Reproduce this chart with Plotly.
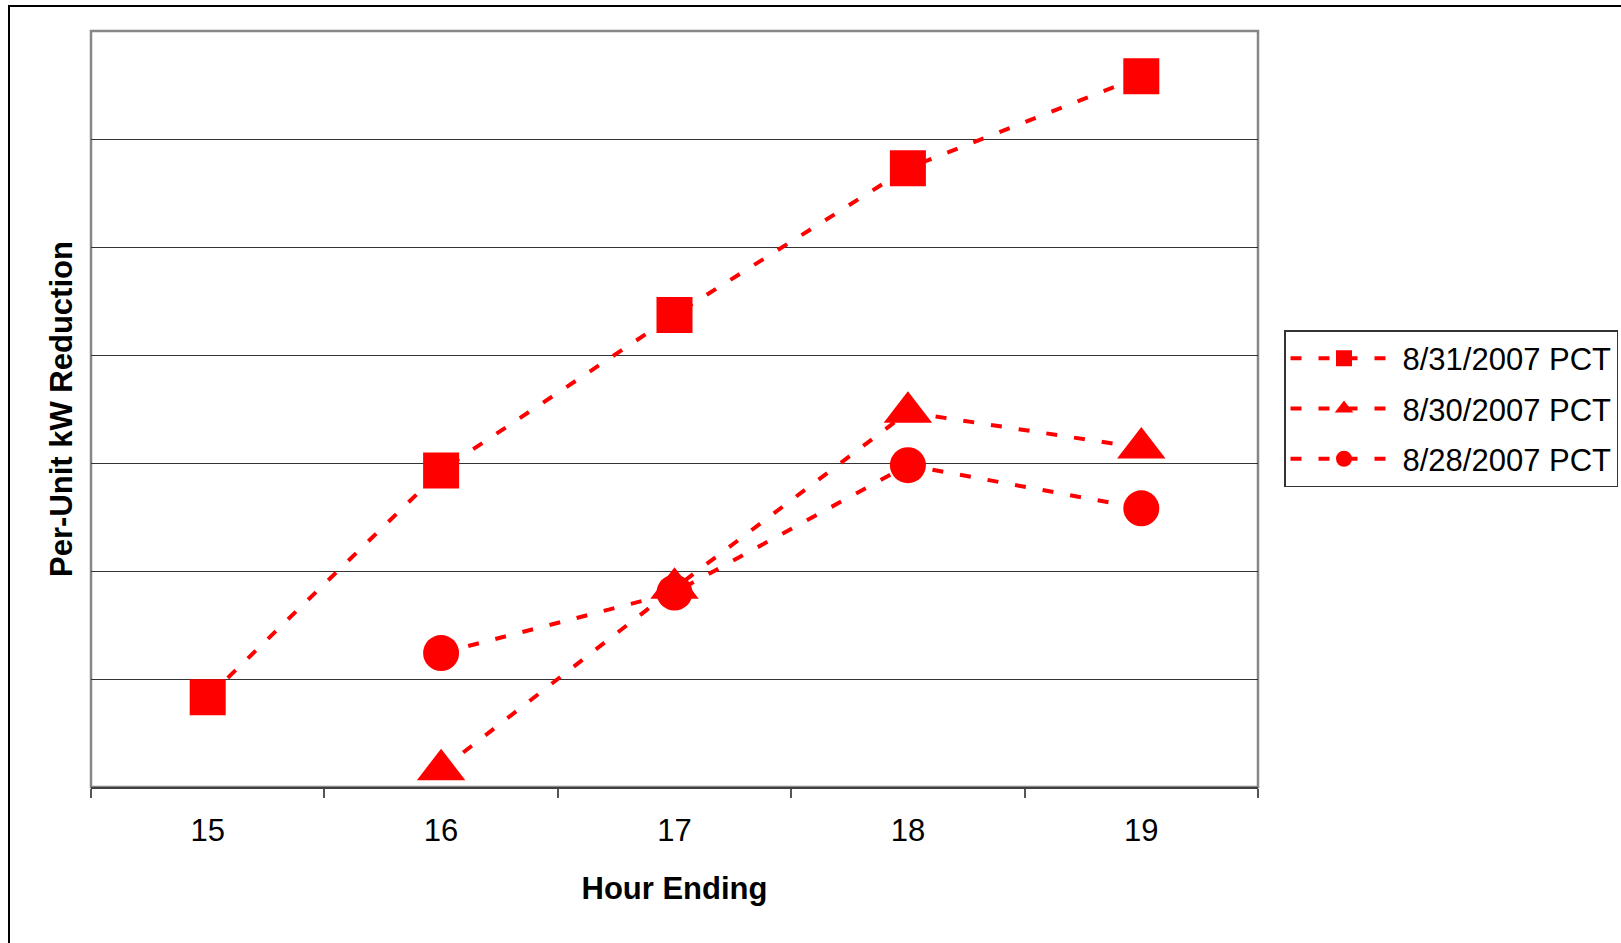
import plotly.graph_objects as go

hours = ["15", "16", "17", "18", "19"]
series_names = ["8/31/2007 PCT", "8/30/2007 PCT", "8/28/2007 PCT"]
pct_0831 = [0.83, 2.93, 4.37, 5.73, 6.58]
pct_0830 = [None, 0.16, 1.84, 3.47, 3.14]
pct_0828 = [None, 1.24, 1.80, 2.98, 2.58]
symbols = ["square", "triangle-up", "circle"]
marker_sizes = [36, 42, 36]

W, H = 1621, 943
L, R, T, B = 91, 1258, 31, 787

fig = go.Figure()
for i, (name, vals, sym, ms) in enumerate(zip(series_names, [pct_0831, pct_0830, pct_0828], symbols, marker_sizes)):
    fig.add_trace(go.Scatter(
        x=hours, y=vals, name=name, mode="lines+markers",
        legendgroup=f"g{i}",
        line=dict(color="#FF0000", width=4, dash="11px,17px"),
        marker=dict(symbol=sym, size=ms, color="#FF0000", line=dict(width=0)),
        connectgaps=False,
    ))

def px_x(p):
    return (p - L) / (R - L)

def px_y(p):
    return (B - p) / (B - T)

font_fam = "Arial, Liberation Sans, sans-serif"

fig.update_layout(
    width=W, height=H,
    margin=dict(l=L, r=W - R, t=T, b=H - B, autoexpand=False),
    paper_bgcolor="white", plot_bgcolor="white",
    font=dict(family=font_fam, size=31, color="black"),
    showlegend=True,
    legend=dict(
        x=px_x(1284), y=px_y(330), xanchor="left", yanchor="top",
        bgcolor="white", bordercolor="#333333", borderwidth=1.5,
        font=dict(size=31, family=font_fam, color="black"),
        itemwidth=107, tracegroupgap=7,
    ),
    xaxis=dict(
        type="category", range=[-0.5, 4.5], tickson="boundaries",
        ticks="outside", ticklen=9, tickwidth=1.5, tickcolor="#555555",
        showgrid=False, showline=True, linecolor="#404040", linewidth=2,
        zeroline=False, layer="below traces", ticklabelstandoff=15,
        tickfont=dict(size=31),
        title=dict(text="<b>Hour Ending</b>", font=dict(size=31), standoff=30),
    ),
    yaxis=dict(
        range=[0, 7], dtick=1, showticklabels=False, ticks="",
        showgrid=True, gridcolor="#333333", gridwidth=1,
        zeroline=False, showline=False, layer="below traces",
        title=dict(text="<b>Per-Unit kW Reduction</b>", font=dict(size=31), standoff=8),
    ),
    shapes=[
        dict(type="rect", xref="paper", yref="paper",
             x0=0, x1=1, y0=0, y1=1,
             line=dict(color="#878787", width=2.5), layer="below"),
        dict(type="rect", xref="paper", yref="paper",
             x0=px_x(9), x1=px_x(1640), y0=px_y(960), y1=px_y(6),
             line=dict(color="black", width=2), layer="below"),
    ],
)

fig.write_html("out.html")
